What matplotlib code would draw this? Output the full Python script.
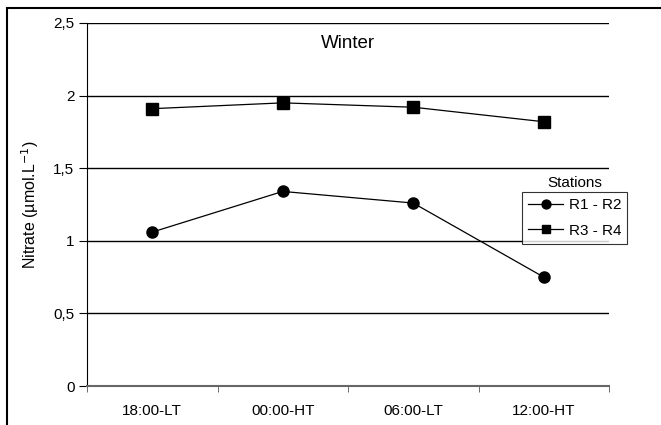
import matplotlib.pyplot as plt
import numpy as np
from matplotlib.patches import Rectangle

plt.rcParams['font.family'] = ['Liberation Sans', 'DejaVu Sans']

# Data
times = ['18:00-LT', '00:00-HT', '06:00-LT', '12:00-HT']
r1_r2 = [1.06, 1.34, 1.26, 0.75]
r3_r4 = [1.91, 1.95, 1.92, 1.82]
yticks = [0, 0.5, 1, 1.5, 2, 2.5]
ytick_labels = ['0', '0,5', '1', '1,5', '2', '2,5']

fig = plt.figure(figsize=(6.61, 4.25), dpi=100)
ax = fig.add_axes([87/661, 1-386/425, 522/661, 363/425])

x = np.arange(len(times))
ax.plot(x, r1_r2, color='black', lw=0.9, marker='o', ms=8, label='R1 - R2')
ax.plot(x, r3_r4, color='black', lw=0.9, marker='s', ms=8, label='R3 - R4')

ax.set_xlim(-0.5, len(times) - 0.5)
ax.set_ylim(0, 2.5)
ax.set_yticks(yticks)
ax.set_yticklabels(ytick_labels)
for yv in yticks[1:]:
    ax.axhline(yv, color='black', lw=1.0, zorder=0)

ax.set_xticks(x)
ax.set_xticklabels(times)
ax.set_xticks(np.arange(len(times) + 1) - 0.5, minor=True)
ax.tick_params(axis='x', which='major', length=0, pad=13, labelsize=11)
ax.tick_params(axis='x', which='minor', length=4, direction='out', color='#555555')
ax.tick_params(axis='y', length=6, direction='out', labelsize=11, pad=3)

for s in ['top', 'right']:
    ax.spines[s].set_visible(False)
ax.spines['bottom'].set_color('#666666')
ax.spines['bottom'].set_linewidth(1.5)
ax.spines['left'].set_color('black')

ax.set_ylabel('Nitrate (µmol.L$^{-1}$)', fontsize=11.5, labelpad=9)
ax.text(1.5, 2.36, 'Winter', ha='center', va='center', fontsize=13.5)

leg = ax.legend(loc='upper left', bbox_to_anchor=(522/661, 1-192/425),
                bbox_transform=fig.transFigure, frameon=True, fancybox=False,
                edgecolor='black', fontsize=11, markerscale=0.8,
                handlelength=2.3, handletextpad=0.35, borderpad=0.4, labelspacing=0.75,
                borderaxespad=0)
leg.get_frame().set_linewidth(0.8)
fig.text(575/661, 1-183/425, 'Stations', ha='center', va='center', fontsize=11)

# outer chart border
fig.patches.append(Rectangle((7/661, -0.05), 1.0, 1-8/425+0.05, transform=fig.transFigure,
                             fill=False, edgecolor='black', lw=1.5))

fig.savefig('out.png', dpi=100)
